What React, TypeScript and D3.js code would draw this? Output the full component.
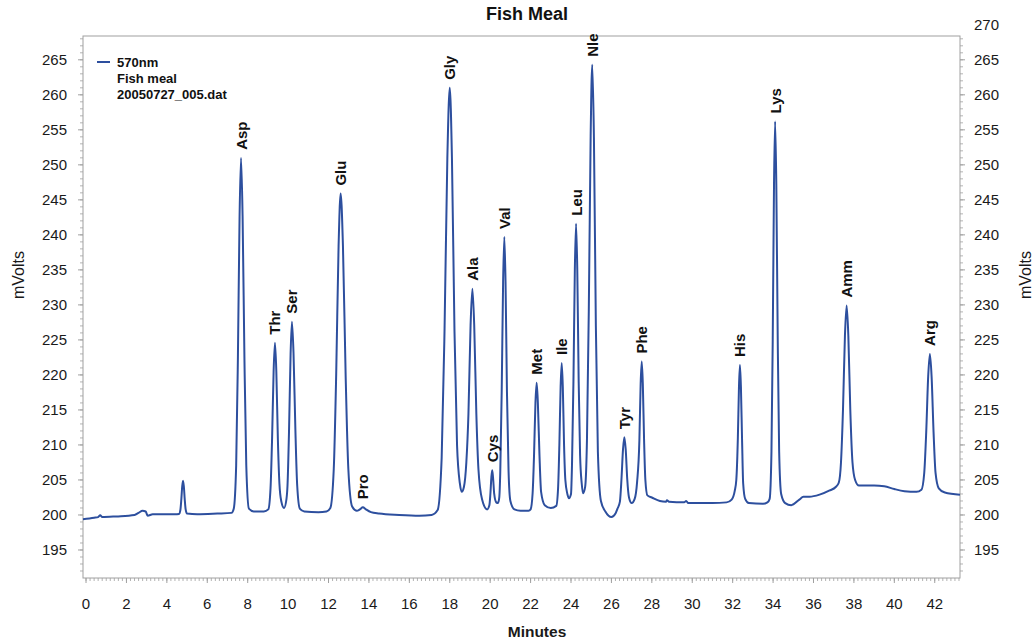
import React from "react";
import * as d3 from "d3";

const W = 1035;
const H = 641;

// Chromatogram trace: [minutes, mVolts]
const traceTimes: number[] = [
  -0.15, 0.4, 0.6, 0.7, 0.8, 1.5, 2.4, 2.6, 2.8, 2.95, 3.05, 3.3, 4.4,
  4.6, 4.67, 4.715, 4.76, 4.8, 4.84, 4.885, 4.93, 5.0, 5.5, 6.5, 7.2,
  7.31, 7.43, 7.514, 7.598, 7.67, 7.748, 7.84, 7.93, 8.06, 8.3, 8.8,
  9.02, 9.13, 9.207, 9.284, 9.35, 9.416, 9.493, 9.57, 9.66, 9.8,
  9.92, 9.97, 10.047, 10.124, 10.19, 10.268, 10.36, 10.45, 10.58, 10.8, 11.5, 11.9,
  12.09, 12.26, 12.379, 12.498, 12.6, 12.714, 12.847, 12.98, 13.17, 13.4,
  13.55, 13.7, 13.85, 14.1, 14.5, 15.5, 16.5, 17.1,
  17.4, 17.6, 17.74, 17.88, 18.0, 18.108, 18.234, 18.36, 18.5, 18.59,
  18.7, 18.82, 18.925, 19.03, 19.12, 19.21, 19.315, 19.42, 19.6, 19.85,
  19.96, 20.01, 20.06, 20.1, 20.14, 20.2, 20.3, 20.39,
  20.45, 20.5, 20.57, 20.64, 20.7, 20.76, 20.83, 20.91, 21.0, 21.2, 21.5, 21.9,
  22.0, 22.1, 22.17, 22.24, 22.3, 22.36, 22.44, 22.52, 22.7, 23.0,
  23.27, 23.36, 23.423, 23.486, 23.54, 23.594, 23.657, 23.72, 23.82, 23.9,
  24.0, 24.05, 24.12, 24.19, 24.25, 24.31, 24.38, 24.45, 24.53, 24.6,
  24.7, 24.79, 24.88, 24.972, 25.05, 25.134, 25.23, 25.33, 25.48, 25.7, 26.0, 26.2,
  26.3, 26.42, 26.497, 26.574, 26.64, 26.706, 26.783, 26.87, 27.0,
  27.15, 27.27, 27.383, 27.446, 27.5, 27.554, 27.617, 27.68, 27.78, 28.0, 28.4, 28.7, 28.75, 28.85,
  29.6, 29.7, 29.8, 31.0, 31.7, 31.95, 32.1,
  32.18, 32.256, 32.312, 32.36, 32.408, 32.464, 32.52, 32.62, 32.8, 33.5, 33.72,
  33.83, 33.92, 33.983, 34.046, 34.1, 34.16, 34.23, 34.3, 34.4, 34.6, 34.9, 35.3, 35.5, 35.8, 36.3, 36.8, 37.1,
  37.25, 37.36, 37.46, 37.556, 37.64, 37.724, 37.82, 37.93, 38.06, 38.25, 39.0, 39.5, 40.0, 40.5, 41.1,
  41.34, 41.48, 41.578, 41.676, 41.76, 41.844, 41.942, 42.04, 42.2, 42.5, 43.25,
];

const traceValues: number[] = [
  199.4, 199.6, 199.7, 199.95, 199.7, 199.8, 200.0, 200.3, 200.6, 200.5, 199.9, 200.1, 200.1,
  200.15, 200.75, 202.2, 204.1, 204.9, 204.1, 202.2, 200.8, 200.2, 200.1, 200.2, 200.3,
  200.9, 207.1, 222.1, 242.6, 251.0, 242.6, 222.1, 207.1, 200.9, 200.5, 200.5,
  200.8, 203.8, 210.9, 220.6, 224.6, 220.6, 210.9, 204.5, 202.0, 201.0,
  202.3, 204.2, 212.2, 223.1, 227.6, 223.1, 212.2, 204.2, 200.9, 200.5, 200.4, 200.5,
  201.0, 206.6, 220.0, 238.4, 245.9, 238.4, 220.0, 206.6, 201.2, 200.6,
  200.8, 201.1, 200.8, 200.4, 200.2, 200.0, 199.9, 200.0,
  200.7, 208.2, 226.2, 250.9, 261.0, 250.9, 226.2, 210.0, 204.5, 203.3,
  204.0, 207.5, 214.5, 227.1, 232.3, 227.1, 214.5, 206.5, 202.2, 200.8,
  201.4, 203.0, 205.4, 206.4, 205.4, 203.0, 201.8, 201.7,
  202.5, 206.2, 217.6, 233.3, 239.7, 233.3, 217.6, 206.2, 202.0, 200.8, 200.6, 200.6,
  200.8, 203.1, 208.5, 216.0, 218.9, 216.0, 208.5, 203.3, 201.4, 201.0,
  201.3, 203.8, 209.9, 218.3, 221.7, 218.3, 209.9, 205.0, 203.0, 202.4,
  203.0, 207.3, 219.0, 235.1, 241.6, 235.1, 219.0, 208.5, 204.5, 203.1,
  204.0, 210.8, 229.1, 254.1, 264.3, 253.9, 227.0, 209.0, 202.0, 200.5, 199.7, 200.2,
  200.9, 201.9, 205.1, 209.4, 211.1, 209.4, 205.1, 202.5, 201.7,
  202.3, 204.7, 210.6, 218.7, 221.9, 218.7, 210.6, 205.0, 202.8, 202.5, 202.0, 201.9, 202.1, 201.9,
  201.8, 202.0, 201.7, 201.7, 201.8, 202.2, 203.4,
  205.0, 210.9, 218.3, 221.4, 218.3, 210.9, 204.5, 202.3, 201.7, 201.6, 201.8,
  202.3, 209.1, 225.1, 247.2, 256.2, 247.2, 225.1, 209.1, 203.0, 201.7, 201.4, 202.2, 202.6, 202.6, 202.9, 203.5, 204.0,
  204.6, 207.5, 215.1, 225.6, 229.9, 225.6, 215.1, 207.5, 205.0, 204.2, 204.2, 204.1, 203.7, 203.4, 203.3,
  203.6, 206.0, 211.8, 219.8, 223.0, 219.8, 211.8, 206.0, 203.8, 203.2, 202.9,
];

// Peak annotations
const peakNames: string[] = [
  "Asp", "Thr", "Ser", "Glu", "Pro", "Gly", "Ala", "Cys", "Val", "Met",
  "Ile", "Leu", "Nle", "Tyr", "Phe", "His", "Lys", "Amm", "Arg",
];
const peakTimes: number[] = [
  7.67, 9.35, 10.19, 12.6, 13.7, 18.0, 19.12, 20.1, 20.7, 22.3,
  23.54, 24.25, 25.05, 26.64, 27.5, 32.36, 34.1, 37.64, 41.76,
];
const peakHeights: number[] = [
  251.0, 224.6, 227.6, 245.9, 201.1, 261.0, 232.3, 206.4, 239.7, 218.9,
  221.7, 241.6, 264.3, 211.1, 221.9, 221.4, 256.2, 229.9, 223.0,
];

const xTicks: number[] = [0, 2, 4, 6, 8, 10, 12, 14, 16, 18, 20, 22, 24, 26, 28, 30, 32, 34, 36, 38, 40, 42];
const leftYTicks: number[] = [195, 200, 205, 210, 215, 220, 225, 230, 235, 240, 245, 250, 255, 260, 265];
const rightYTicks: number[] = [195, 200, 205, 210, 215, 220, 225, 230, 235, 240, 245, 250, 255, 260, 265, 270];
const legendLines: string[] = ["570nm", "Fish meal", "20050727_005.dat"];

const LINE = "#2d4f9e";
const AXIS = "#a0a0a0";
const FONT = "Liberation Sans, Arial, sans-serif";

export default function App() {
  const left = 83, right = 960, top = 36, bottom = 578;
  const x = d3.scaleLinear().domain([-0.15, 43.25]).range([left, right]);
  const y = d3.scaleLinear().domain([191, 268.4]).range([bottom, top]);

  const pts: [number, number][] = traceTimes.map((t, i) => [t, traceValues[i]]);
  const line = d3
    .line<[number, number]>()
    .x((d) => x(d[0]))
    .y((d) => y(d[1]))
    .curve(d3.curveMonotoneX);

  const minorX = d3.range(0, 43.21, 0.2);
  const minorY = d3.range(192, 269, 1);

  return (
    <svg
      width={W}
      height={H}
      style={{ position: "absolute", left: 0, top: 0, background: "#fff" }}
      fontFamily={FONT}
    >
      <rect x={0} y={0} width={W} height={H} fill="#fff" />
      <text x={527} y={20} textAnchor="middle" fontSize={18} fontWeight="bold" fill="#111">
        Fish Meal
      </text>

      {/* plot frame */}
      <rect x={left} y={top} width={right - left} height={bottom - top} fill="none" stroke={AXIS} strokeWidth={1} />

      {/* minor ticks */}
      {minorX.map((v, i) => (
        <line key={"mx" + i} x1={x(v)} x2={x(v)} y1={bottom} y2={bottom + 3} stroke={AXIS} strokeWidth={0.8} />
      ))}
      {minorY.map((v, i) => (
        <g key={"my" + i}>
          <line x1={left - 3} x2={left} y1={y(v)} y2={y(v)} stroke={AXIS} strokeWidth={0.8} />
          <line x1={right} x2={right + 3} y1={y(v)} y2={y(v)} stroke={AXIS} strokeWidth={0.8} />
        </g>
      ))}

      {/* x axis */}
      {xTicks.map((t) => (
        <g key={"xt" + t}>
          <line x1={x(t)} x2={x(t)} y1={bottom} y2={bottom + 5} stroke={AXIS} />
          <text x={x(t)} y={609} textAnchor="middle" fontSize={15} fill="#1a1a1a">
            {t}
          </text>
        </g>
      ))}
      <text x={537} y={637} textAnchor="middle" fontSize={15.5} fontWeight="bold" fill="#1a1a1a">
        Minutes
      </text>

      {/* left y axis */}
      {leftYTicks.map((v) => (
        <g key={"ly" + v}>
          <line x1={left - 5} x2={left} y1={y(v)} y2={y(v)} stroke={AXIS} />
          <text x={67} y={y(v) + 5} textAnchor="end" fontSize={15} fill="#1a1a1a">
            {v}
          </text>
        </g>
      ))}
      <text
        transform={`translate(24, 275) rotate(-90)`}
        textAnchor="middle"
        fontSize={16}
        fill="#1a1a1a"
      >
        mVolts
      </text>

      {/* right y axis */}
      {rightYTicks.map((v) => (
        <g key={"ry" + v}>
          {y(v) >= top && <line x1={right} x2={right + 5} y1={y(v)} y2={y(v)} stroke={AXIS} />}
          <text x={974} y={y(v) + 5} textAnchor="start" fontSize={15} fill="#1a1a1a">
            {v}
          </text>
        </g>
      ))}
      <text
        transform={`translate(1031, 275) rotate(-90)`}
        textAnchor="middle"
        fontSize={16}
        fill="#1a1a1a"
      >
        mVolts
      </text>

      {/* trace */}
      <path d={line(pts) ?? ""} fill="none" stroke={LINE} strokeWidth={2} strokeLinejoin="round" />

      {/* peak labels */}
      {peakNames.map((n, i) => (
        <text
          key={"pk" + n}
          transform={`translate(${x(peakTimes[i]) + 5.5}, ${y(peakHeights[i]) - 8}) rotate(-90)`}
          textAnchor="start"
          fontSize={15}
          fontWeight="bold"
          fill="#111"
        >
          {n}
        </text>
      ))}

      {/* legend */}
      <line x1={97} x2={110} y1={62} y2={62} stroke={LINE} strokeWidth={2} />
      {legendLines.map((s, i) => (
        <text key={"lg" + i} x={117} y={67 + i * 16} fontSize={13} fontWeight="bold" fill="#111">
          {s}
        </text>
      ))}
    </svg>
  );
}
